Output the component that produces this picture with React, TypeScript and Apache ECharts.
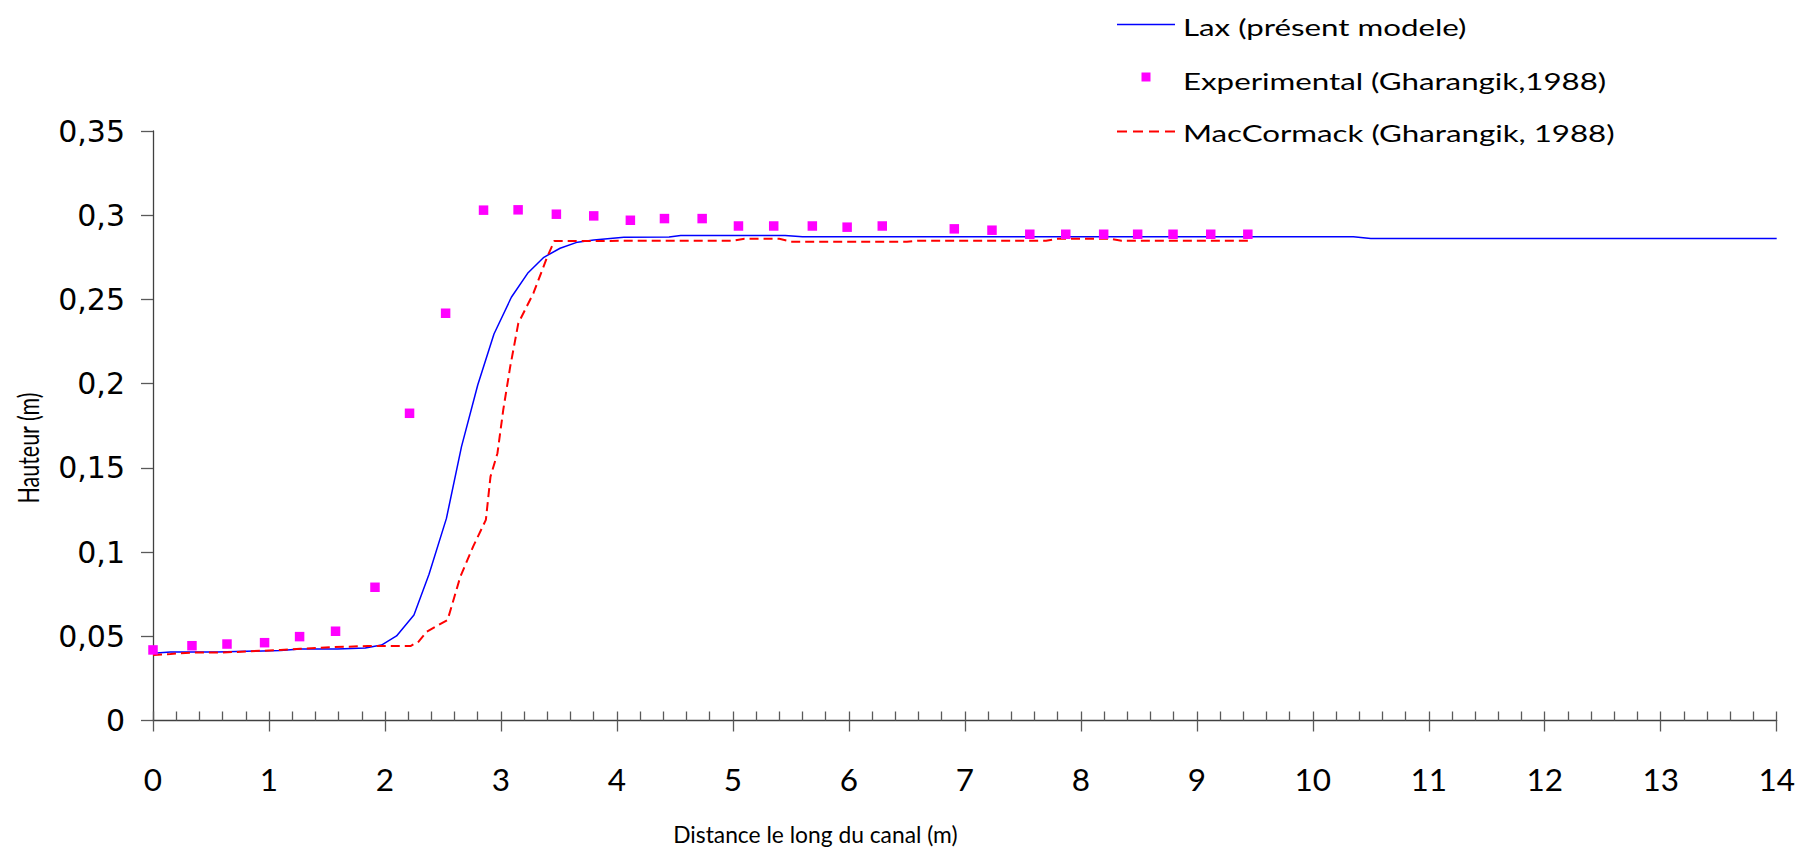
import React, { useEffect, useRef } from "react";
import * as echarts from "echarts";

// Lax (présent modele) – distance (m) and height (m)
const laxX = [0.0, 0.15, 0.55, 1.1, 1.27, 1.59, 1.83, 1.97, 2.1, 2.25, 2.38, 2.53, 2.66, 2.8, 2.94, 3.09, 3.23, 3.37, 3.51, 3.66, 3.8, 4.06, 4.45, 4.55, 5.45, 5.6, 10.35, 10.5, 14.0];
const laxY = [0.0399, 0.0407, 0.0407, 0.0415, 0.0425, 0.0425, 0.043, 0.0448, 0.0502, 0.0626, 0.0868, 0.12, 0.1626, 0.1992, 0.2295, 0.2513, 0.2655, 0.275, 0.2804, 0.284, 0.2853, 0.2869, 0.287, 0.288, 0.288, 0.2872, 0.2872, 0.2862, 0.2862];

// MacCormack (Gharangik, 1988)
const macX = [0.0, 0.15, 0.32, 0.58, 1.1, 1.27, 1.53, 1.85, 2.22, 2.29, 2.36, 2.54, 2.65, 2.76, 2.87, 2.91, 2.97, 3.02, 3.08, 3.15, 3.28, 3.4, 3.46, 5.0, 5.1, 5.4, 5.5, 6.5, 6.6, 7.7, 7.8, 8.25, 8.35, 9.46];
const macY = [0.0389, 0.0395, 0.0403, 0.0403, 0.0419, 0.0426, 0.0435, 0.0442, 0.0442, 0.0468, 0.0527, 0.0597, 0.0854, 0.1032, 0.1191, 0.1448, 0.1587, 0.1844, 0.2101, 0.2359, 0.2537, 0.2754, 0.2847, 0.2849, 0.286, 0.286, 0.2843, 0.2843, 0.2849, 0.2849, 0.286, 0.286, 0.2849, 0.2849];

// Experimental (Gharangik,1988)
const expX = [0.0, 0.336, 0.638, 0.962, 1.264, 1.574, 1.914, 2.212, 2.523, 2.85, 3.148, 3.478, 3.8, 4.116, 4.41, 4.735, 5.048, 5.352, 5.685, 5.985, 6.288, 6.909, 7.234, 7.56, 7.87, 8.197, 8.49, 8.795, 9.12, 9.44];
const expY = [0.0419, 0.0444, 0.0454, 0.0462, 0.0498, 0.053, 0.0791, 0.1824, 0.2418, 0.303, 0.3032, 0.3006, 0.2996, 0.297, 0.298, 0.298, 0.2936, 0.2936, 0.2936, 0.2929, 0.2936, 0.2919, 0.2911, 0.2887, 0.2887, 0.2887, 0.2887, 0.2887, 0.2887, 0.2887];

const seriesNames = ["Lax (présent modele)", "Experimental (Gharangik,1988)", "MacCormack (Gharangik, 1988)"];
const seriesColors = ["#0000ff", "#ff00ff", "#ff0000"];
const yTickLabels = ["0", "0,05", "0,1", "0,15", "0,2", "0,25", "0,3", "0,35"];
const xTickLabels = ["0", "1", "2", "3", "4", "5", "6", "7", "8", "9", "10", "11", "12", "13", "14"];
const xTitle = "Distance le long du canal (m)";
const yTitle = "Hauteur (m)";

const zip = (xs: number[], ys: number[]) => xs.map((x, i) => [x, ys[i]]);

export default function App() {
  const ref = useRef<HTMLDivElement>(null);
  useEffect(() => {
    if (!ref.current) return;
    const chart = echarts.init(ref.current, null, { renderer: "svg" });
    const axisColor = "#404040";
    const tickColor = "#595959";
    const calibriLike = "Lato, 'Open Sans', sans-serif";
    const legendFont = "23px Lato, 'Open Sans', sans-serif";
    const legLeft = 1117;
    const legIconW = 58;
    const legTextX = 1183;
    const rowY = [24.5, 77, 131.5];

    chart.setOption({
      animation: false,
      backgroundColor: "#ffffff",
      grid: { left: 153, right: 23.3, top: 131, bottom: 131.5, containLabel: false },
      xAxis: [
        {
          type: "value",
          min: 0,
          max: 14,
          interval: 1,
          position: "bottom",
          axisLine: { show: true, onZero: false, lineStyle: { color: axisColor, width: 1.3 } },
          axisTick: { show: true, inside: true, length: 9, lineStyle: { color: tickColor, width: 1.3 } },
          minorTick: { show: true, splitNumber: 5, length: 9, lineStyle: { color: tickColor, width: 1.3 } },
          axisLabel: {
            margin: 42,
            fontFamily: calibriLike,
            fontSize: 31.5,
            color: "#000",
            formatter: (v: number) => xTickLabels[Math.round(v)] ?? "",
          },
          splitLine: { show: false },
          minorSplitLine: { show: false },
          name: xTitle,
          nameLocation: "middle",
          nameGap: 102,
          nameTextStyle: { fontFamily: calibriLike, fontSize: 22.8, color: "#000", padding: [0, 299, 0, 0] },
        },
        {
          type: "value",
          min: 0,
          max: 14,
          interval: 1,
          position: "bottom",
          axisLine: { show: false, onZero: false },
          axisTick: { show: true, inside: false, length: 11, lineStyle: { color: tickColor, width: 1.3 } },
          axisLabel: { show: false },
          splitLine: { show: false },
        },
      ],
      yAxis: {
        type: "value",
        min: 0,
        max: 0.35,
        interval: 0.05,
        axisLine: { show: true, lineStyle: { color: axisColor, width: 1.3 } },
        axisTick: { show: true, inside: false, length: 12, lineStyle: { color: tickColor, width: 1.3 } },
        axisLabel: {
          margin: 28,
          fontFamily: "'DejaVu Sans', Verdana, sans-serif",
          fontSize: 30,
          color: "#000",
          formatter: (v: number) => yTickLabels[Math.round(v / 0.05)] ?? "",
        },
        splitLine: { show: false },
      },
      graphic: [
        {
          type: "text",
          x: 27.5,
          y: 448,
          rotation: Math.PI / 2,
          scaleY: 1.3,
          style: {
            text: yTitle,
            font: "21.5px Lato, 'Open Sans', sans-serif",
            fill: "#000",
            align: "center",
            verticalAlign: "middle",
          },
        },
        // legend row 1: solid blue line
        {
          type: "line",
          shape: { x1: legLeft, y1: rowY[0], x2: legLeft + legIconW, y2: rowY[0] },
          style: { stroke: seriesColors[0], lineWidth: 1.5 },
        },
        {
          type: "text",
          x: legTextX,
          y: rowY[0] + 2.5,
          scaleX: 1.36,
          style: { text: seriesNames[0], font: legendFont, fill: "#000", align: "left", verticalAlign: "middle" },
        },
        // legend row 2: magenta square
        {
          type: "rect",
          shape: { x: legLeft + legIconW / 2 - 4.5, y: rowY[1] - 4.5, width: 9, height: 9 },
          style: { fill: seriesColors[1] },
        },
        {
          type: "text",
          x: legTextX,
          y: rowY[1] + 4,
          scaleX: 1.36,
          style: { text: seriesNames[1], font: legendFont, fill: "#000", align: "left", verticalAlign: "middle" },
        },
        // legend row 3: red dashed line
        {
          type: "line",
          shape: { x1: legLeft, y1: rowY[2], x2: legLeft + legIconW, y2: rowY[2] },
          style: { stroke: seriesColors[2], lineWidth: 2, lineDash: [10, 6] },
        },
        {
          type: "text",
          x: legTextX,
          y: rowY[2] + 2,
          scaleX: 1.36,
          style: { text: seriesNames[2], font: legendFont, fill: "#000", align: "left", verticalAlign: "middle" },
        },
      ],
      series: [
        {
          name: seriesNames[0],
          type: "line",
          xAxisIndex: 0,
          data: zip(laxX, laxY),
          symbol: "none",
          lineStyle: { color: seriesColors[0], width: 1.5 },
          itemStyle: { color: seriesColors[0] },
          z: 3,
        },
        {
          name: seriesNames[1],
          type: "scatter",
          xAxisIndex: 0,
          data: zip(expX, expY),
          symbol: "rect",
          symbolSize: 9.5,
          itemStyle: { color: seriesColors[1], opacity: 1 },
          z: 5,
        },
        {
          name: seriesNames[2],
          type: "line",
          xAxisIndex: 0,
          data: zip(macX, macY),
          symbol: "none",
          lineStyle: { color: seriesColors[2], width: 2, type: [9, 5] },
          itemStyle: { color: seriesColors[2] },
          z: 4,
        },
      ],
    });
    return () => chart.dispose();
  }, []);
  return <div ref={ref} style={{ position: "fixed", left: 0, top: 0, width: 1800, height: 852 }} />;
}
